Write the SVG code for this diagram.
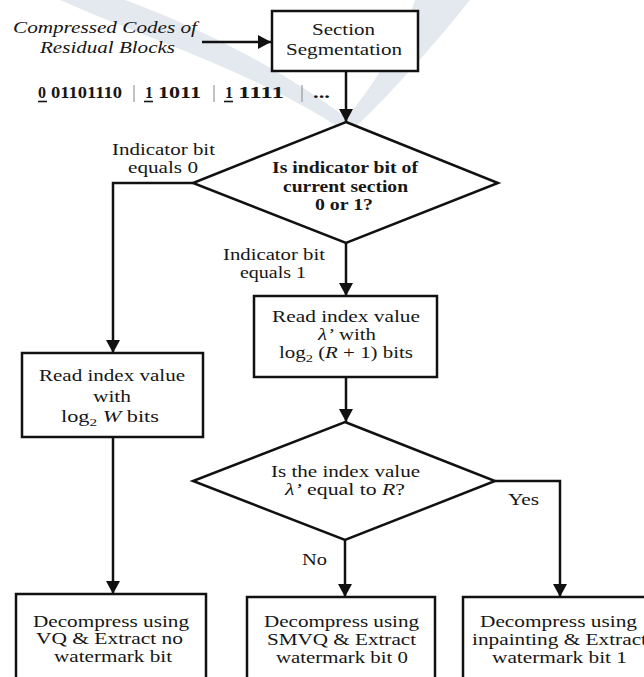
<svg xmlns="http://www.w3.org/2000/svg" width="644" height="677" viewBox="0 0 644 677">
<style>
.t{font-family:"Liberation Serif","Times New Roman",serif;font-size:16px;fill:#161616;text-anchor:middle}
.i{font-style:italic}
.b{font-weight:bold}
.l{text-anchor:start}
.box{fill:#fff;stroke:#111;stroke-width:2.5}
.dia{fill:#fff;stroke:#111;stroke-width:2.5;stroke-linejoin:miter}
.con{fill:none;stroke:#111;stroke-width:2.5}
.sep{stroke:#999;stroke-width:1.2}
.ul{stroke:#161616;stroke-width:1.6}
.wm{fill:#e3e9ee}
</style>
<defs>
<marker id="ah" markerUnits="userSpaceOnUse" markerWidth="14" markerHeight="14" refX="13" refY="7" orient="auto">
<path d="M0,0 L13,7 L0,14 z" fill="#111"/>
</marker>
</defs>
<rect width="644" height="677" fill="#fff"/>
<g id="watermark">
<path class="wm" d="M60,0 C150,40 250,70 340,128 L352,122 C270,60 180,20 125,0 Z"/>
<path class="wm" d="M415,0 L470,0 C430,50 385,100 352,130 L340,126 C372,88 400,45 415,0 Z"/>
</g>
<g id="connectors">
<line class="con" x1="202" y1="42" x2="271" y2="42" marker-end="url(#ah)"/>
<line class="con" x1="346" y1="71" x2="346" y2="122" marker-end="url(#ah)"/>
<polyline class="con" points="193,183 113,183 113,353" marker-end="url(#ah)"/>
<line class="con" x1="346" y1="243" x2="346" y2="296" marker-end="url(#ah)"/>
<line class="con" x1="346" y1="377" x2="346" y2="422" marker-end="url(#ah)"/>
<line class="con" x1="113" y1="437" x2="113" y2="594" marker-end="url(#ah)"/>
<line class="con" x1="345" y1="540" x2="345" y2="597" marker-end="url(#ah)"/>
<polyline class="con" points="495,481 560,481 560,597" marker-end="url(#ah)"/>
</g>
<g id="input-label">
<text class="t i" x="105" y="33" textLength="184" lengthAdjust="spacingAndGlyphs">Compressed Codes of</text>
<text class="t i" x="107.5" y="53" textLength="135" lengthAdjust="spacingAndGlyphs">Residual Blocks</text>
</g>
<g id="section-segmentation">
<rect class="box" x="272" y="11" width="146" height="60"/>
<text class="t" x="343.5" y="35" textLength="63" lengthAdjust="spacingAndGlyphs">Section</text>
<text class="t" x="344" y="55" textLength="116" lengthAdjust="spacingAndGlyphs">Segmentation</text>
</g>
<g id="bit-string">
<text class="t b l" x="38" y="98" font-size="17">0</text>
<text class="t b l" x="51" y="98" font-size="17" textLength="71" lengthAdjust="spacingAndGlyphs">01101110</text>
<text class="t b l" x="145" y="98" font-size="17">1</text>
<text class="t b l" x="158" y="98" font-size="17" textLength="43" lengthAdjust="spacingAndGlyphs">1011</text>
<text class="t b l" x="225" y="98" font-size="17">1</text>
<text class="t b l" x="238" y="98" font-size="17" textLength="46" lengthAdjust="spacingAndGlyphs">1111</text>
<text class="t b l" x="313" y="98" font-size="17" textLength="17" lengthAdjust="spacingAndGlyphs">...</text>
<line class="ul" x1="38" y1="101.5" x2="47" y2="101.5"/>
<line class="ul" x1="144" y1="101.5" x2="153" y2="101.5"/>
<line class="ul" x1="224" y1="101.5" x2="233" y2="101.5"/>
<line class="sep" x1="134" y1="85" x2="134" y2="102"/>
<line class="sep" x1="214" y1="85" x2="214" y2="102"/>
<line class="sep" x1="302" y1="85" x2="302" y2="102" stroke="#c4c4c4"/>
</g>
<g id="decision-indicator">
<polygon class="dia" points="346,122 498,183 346,243 193,183"/>
<text class="t b" x="345" y="173" textLength="146" lengthAdjust="spacingAndGlyphs">Is indicator bit of</text>
<text class="t b" x="345.5" y="192" textLength="125" lengthAdjust="spacingAndGlyphs">current section</text>
<text class="t b" x="344" y="210" textLength="58" lengthAdjust="spacingAndGlyphs">0 or 1?</text>
</g>
<g id="label-zero">
<text class="t" x="163.5" y="155" textLength="103" lengthAdjust="spacingAndGlyphs">Indicator bit</text>
<text class="t" x="163" y="173" textLength="70" lengthAdjust="spacingAndGlyphs">equals 0</text>
</g>
<g id="label-one">
<text class="t" x="274" y="260" textLength="102" lengthAdjust="spacingAndGlyphs">Indicator bit</text>
<text class="t" x="273" y="278" textLength="66" lengthAdjust="spacingAndGlyphs">equals 1</text>
</g>
<g id="read-index-r">
<rect class="box" x="254" y="296" width="183" height="81"/>
<text class="t" x="346" y="322" textLength="148" lengthAdjust="spacingAndGlyphs">Read index value</text>
<text class="t" x="347" y="340" textLength="58" lengthAdjust="spacingAndGlyphs"><tspan class="i">λ’</tspan> with</text>
<text class="t" x="346" y="358" textLength="134" lengthAdjust="spacingAndGlyphs">log<tspan font-size="11" dy="4">2</tspan><tspan dy="-4"> (</tspan><tspan class="i">R</tspan> + 1) bits</text>
</g>
<g id="read-index-w">
<rect class="box" x="22" y="353" width="181" height="84"/>
<text class="t" x="112" y="381" textLength="146" lengthAdjust="spacingAndGlyphs">Read index value</text>
<text class="t" x="112" y="402" textLength="38" lengthAdjust="spacingAndGlyphs">with</text>
<text class="t" x="110" y="422" textLength="98" lengthAdjust="spacingAndGlyphs">log<tspan font-size="11" dy="4">2</tspan><tspan dy="-4"> </tspan><tspan class="i">W</tspan> bits</text>
</g>
<g id="decision-index">
<polygon class="dia" points="345,422 495,481 345,540 193,481"/>
<text class="t" x="345.5" y="477" textLength="149" lengthAdjust="spacingAndGlyphs">Is the index value</text>
<text class="t" x="345" y="495" textLength="120" lengthAdjust="spacingAndGlyphs"><tspan class="i">λ’</tspan> equal to <tspan class="i">R</tspan>?</text>
</g>
<g id="label-no">
<text class="t" x="314.5" y="565" textLength="25" lengthAdjust="spacingAndGlyphs">No</text>
</g>
<g id="label-yes">
<text class="t" x="523.5" y="505" textLength="31" lengthAdjust="spacingAndGlyphs">Yes</text>
</g>
<g id="decompress-vq">
<rect class="box" x="16" y="594" width="190" height="100"/>
<text class="t" x="111" y="627" textLength="156" lengthAdjust="spacingAndGlyphs">Decompress using</text>
<text class="t" x="109.5" y="644" textLength="147" lengthAdjust="spacingAndGlyphs">VQ &amp; Extract no</text>
<text class="t" x="113" y="662" textLength="118" lengthAdjust="spacingAndGlyphs">watermark bit</text>
</g>
<g id="decompress-smvq">
<rect class="box" x="247" y="597" width="188" height="100"/>
<text class="t" x="341.5" y="627" textLength="155" lengthAdjust="spacingAndGlyphs">Decompress using</text>
<text class="t" x="341.5" y="645" textLength="149" lengthAdjust="spacingAndGlyphs">SMVQ &amp; Extract</text>
<text class="t" x="342" y="663" textLength="132" lengthAdjust="spacingAndGlyphs">watermark bit 0</text>
</g>
<g id="decompress-inpainting">
<rect class="box" x="463" y="597" width="197" height="100"/>
<text class="t" x="558.5" y="627" textLength="157" lengthAdjust="spacingAndGlyphs">Decompress using</text>
<text class="t" x="559.5" y="645" textLength="175" lengthAdjust="spacingAndGlyphs">inpainting &amp; Extract</text>
<text class="t" x="559.5" y="663" textLength="135" lengthAdjust="spacingAndGlyphs">watermark bit 1</text>
</g>
</svg>
